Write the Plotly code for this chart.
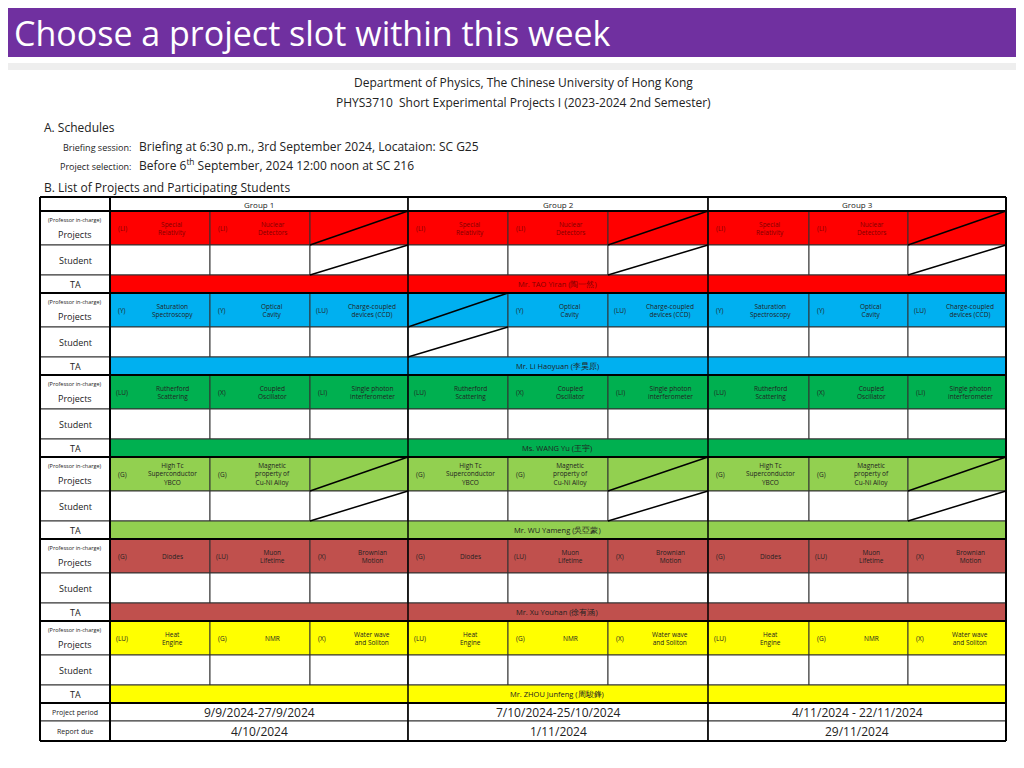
import plotly.graph_objects as go

groups = ["Group 1", "Group 2", "Group 3"]
block_colors = ["#FF0000", "#00B0F0", "#00B050", "#92D050", "#C0504D", "#FFFF00"]
ta_names = ["Mr. TAO Yiran (陶一然)", "Mr. Li Haoyuan (李昊原)", "Ms. WANG Yu (王宇)",
            "Mr. WU Yameng (吳亞蒙)", "Mr. Xu Youhan (徐有涵)", "Mr. ZHOU Junfeng (周駿鋒)"]
sr = ("(LI)", "Special<br>Relativity")
nd = ("(LI)", "Nuclear<br>Detectors")
ss = ("(Y)", "Saturation<br>Spectroscopy")
oc = ("(Y)", "Optical<br>Cavity")
ccd = ("(LU)", "Charge-coupled<br>devices (CCD)")
rs = ("(LU)", "Rutherford<br>Scattering")
co = ("(X)", "Coupled<br>Oscillator")
sp = ("(LI)", "Single photon<br>interferometer")
ht = ("(G)", "High Tc<br>Superconductor<br>YBCO")
mp = ("(G)", "Magnetic<br>property of<br>Cu-Ni Alloy")
di = ("(G)", "Diodes")
mu = ("(LU)", "Muon<br>Lifetime")
bm = ("(X)", "Brownian<br>Motion")
he = ("(LU)", "Heat<br>Engine")
nmr = ("(G)", "NMR")
ww = ("(X)", "Water wave<br>and Soliton")
projects = [
    [[sr, nd, None], [sr, nd, None], [sr, nd, None]],
    [[ss, oc, ccd], [None, oc, ccd], [ss, oc, ccd]],
    [[rs, co, sp], [rs, co, sp], [rs, co, sp]],
    [[ht, mp, None], [ht, mp, None], [ht, mp, None]],
    [[di, mu, bm], [di, mu, bm], [di, mu, bm]],
    [[he, nmr, ww], [he, nmr, ww], [he, nmr, ww]],
]
periods = ["9/9/2024-27/9/2024", "7/10/2024-25/10/2024", "4/11/2024 - 22/11/2024"]
report_due = ["4/10/2024", "1/11/2024", "29/11/2024"]

fig = go.Figure()
fig.add_trace(go.Scatter(x=[500], y=[500], mode="markers", marker=dict(opacity=0), hoverinfo="skip", showlegend=False))
shapes, ann = [], []

def rect(x0, y0, x1, y1, fill="white", lw=1, lc="#333"):
    shapes.append(dict(type="rect", x0=x0, y0=y0, x1=x1, y1=y1, fillcolor=fill, line=dict(color=lc, width=lw), layer="below"))

def line(x0, y0, x1, y1, lw=1.5, lc="black"):
    shapes.append(dict(type="line", x0=x0, y0=y0, x1=x1, y1=y1, line=dict(color=lc, width=lw)))

def text(x, y, s, size=10, color="#222", anchor="center", family="Open Sans"):
    ann.append(dict(x=x, y=y, text=s, showarrow=False, xanchor=anchor, yanchor="middle",
                    font=dict(size=size, color=color, family=family)))

# Title bar
rect(0, 0, 1040, 57, fill="#7030A0", lw=0)
text(12, 33, "Choose a project slot within this week", size=34, color="white", anchor="left", family="Open Sans")
rect(4, 63, 1020, 70, fill="#EEEEEE", lw=0)

text(523, 82, "Department of Physics, The Chinese University of Hong Kong", 12)
text(523, 102, "PHYS3710  Short Experimental Projects I (2023-2024 2nd Semester)", 12)
text(42, 127, "A. Schedules", 12, anchor="left")
text(133, 147, "Briefing session:", 9, anchor="right")
text(137, 146, "Briefing at 6:30 p.m., 3rd September 2024, Locataion: SC G25", 12, anchor="left")
text(133, 166, "Project selection:", 9, anchor="right")
text(137, 165, "Before 6<sup>th</sup> September, 2024 12:00 noon at SC 216", 12, anchor="left")
text(42, 187, "B. List of Projects and Participating Students", 12, anchor="left")

L, LC = 40, 110
gx = [110, 408, 708, 1006]
colx = [[110, 210, 310, 408], [408, 508, 608, 708], [708, 809, 908, 1006]]
top = 197
rect(L, top, LC, 211)
for g in range(3):
    rect(gx[g], top, gx[g + 1], 211)
    text((gx[g] + gx[g + 1]) / 2, 204, groups[g], 8)

for b in range(6):
    y0 = 211 + 82 * b
    yp, ys, yt, ye = y0, y0 + 34, y0 + 64, y0 + 82
    col = block_colors[b]
    tcol = "#7F0000" if b == 0 else "#222"
    rect(L, yp, LC, ys)
    text(75, yp + 9, "(Professor in-charge)", 5.5)
    text(75, yp + 23, "Projects", 9)
    rect(L, ys, LC, yt)
    text(75, (ys + yt) / 2, "Student", 9)
    rect(L, yt, LC, ye)
    text(75, (yt + ye) / 2, "TA", 9)
    for g in range(3):
        for k in range(3):
            x0, x1 = colx[g][k], colx[g][k + 1]
            rect(x0, yp, x1, ys, fill=col)
            rect(x0, ys, x1, yt)
            p = projects[b][g][k]
            if p is None:
                line(x0, ys, x1, yp)
                line(x0, yt, x1, ys)
            else:
                text(x0 + 12, (yp + ys) / 2, p[0], 6.5, tcol)
                text(x0 + 62, (yp + ys) / 2, p[1], 6.5, tcol)
    rect(LC, yt, 1006, ye, fill=col)
    text(557, (yt + ye) / 2, ta_names[b], 7.5, tcol)
    line(L, ye, 1006, ye, lw=2)

y_pp = 211 + 82 * 6
rect(L, y_pp, LC, y_pp + 18)
text(75, y_pp + 9, "Project period", 7)
rect(L, y_pp + 18, LC, y_pp + 38)
text(75, y_pp + 28, "Report due", 7)
for g in range(3):
    rect(gx[g], y_pp, gx[g + 1], y_pp + 18)
    rect(gx[g], y_pp + 18, gx[g + 1], y_pp + 38)
    text((gx[g] + gx[g + 1]) / 2, y_pp + 9, periods[g], 12)
    text((gx[g] + gx[g + 1]) / 2, y_pp + 28, report_due[g], 12)

line(L, top, 1006, top, lw=2)
line(L, 211, 1006, 211, lw=2)
line(L, top, L, y_pp + 38, lw=2)
line(LC, top, LC, y_pp + 38, lw=2)
line(1006, top, 1006, y_pp + 38, lw=2)
line(L, y_pp + 38, 1006, y_pp + 38, lw=2)
for xg in gx[1:3]:
    line(xg, top, xg, y_pp + 38, lw=1.5)

fig.update_layout(width=1024, height=768, margin=dict(l=0, r=0, t=0, b=0),
                  paper_bgcolor="white", plot_bgcolor="white",
                  xaxis=dict(range=[8, 1032], visible=False, fixedrange=True),
                  yaxis=dict(range=[776, 8], visible=False, fixedrange=True),
                  shapes=shapes, annotations=ann)
fig.write_html("out.html")
